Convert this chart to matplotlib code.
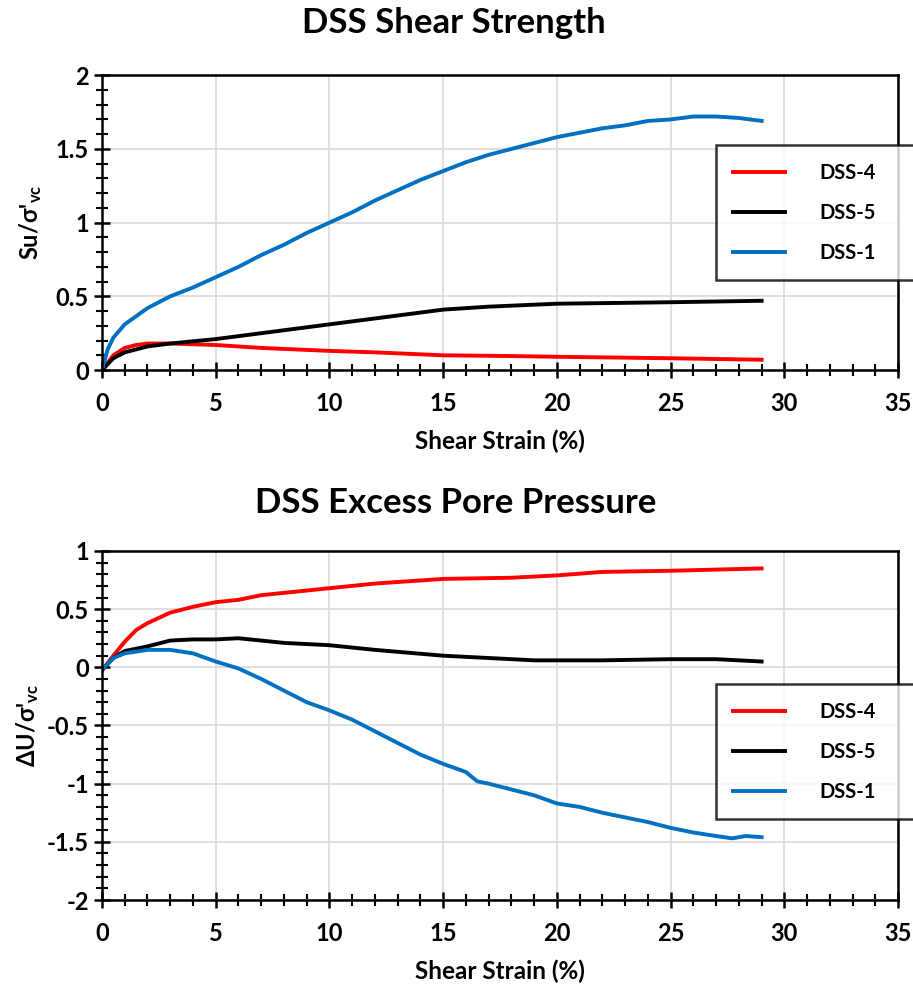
import numpy as np
import matplotlib
matplotlib.use("Agg")
import matplotlib.pyplot as plt
from matplotlib.ticker import MultipleLocator

plt.rcParams['font.family'] = ['Lato', 'DejaVu Sans']
plt.rcParams['font.weight'] = 'bold'
plt.rcParams['mathtext.default'] = 'regular'

labels = ["DSS-4", "DSS-5", "DSS-1"]
colors = ["#ff0000", "#000000", "#0070c0"]

# shear strength
su_x4 = [0, 0.5, 1, 1.5, 2, 3, 4, 5, 7, 10, 12, 15, 18, 20, 25, 29]
su_y4 = [0, 0.10, 0.15, 0.17, 0.18, 0.18, 0.175, 0.17, 0.15, 0.13, 0.12, 0.10, 0.095, 0.09, 0.08, 0.07]
su_x5 = [0, 0.5, 1, 2, 3, 5, 7, 10, 12, 15, 17, 20, 25, 29]
su_y5 = [0, 0.08, 0.12, 0.16, 0.18, 0.21, 0.25, 0.31, 0.35, 0.41, 0.43, 0.45, 0.46, 0.47]
su_x1 = [0, 0.25, 0.5, 1, 2, 3, 4, 5, 6, 7, 8, 9, 10, 11, 12, 13, 14, 15, 16, 17, 18, 19, 20,
         21, 22, 23, 24, 25, 26, 26.5, 27, 28, 29]
su_y1 = [0, 0.14, 0.22, 0.31, 0.42, 0.5, 0.56, 0.63, 0.7, 0.78, 0.85, 0.93, 1.0, 1.07, 1.15, 1.22,
         1.29, 1.35, 1.41, 1.46, 1.5, 1.54, 1.58, 1.61, 1.64, 1.66, 1.69, 1.7, 1.72, 1.72, 1.72, 1.71, 1.69]

# excess pore pressure
du_x4 = [0, 0.5, 1, 1.5, 2, 3, 4, 5, 6, 7, 8, 10, 12, 15, 18, 20, 22, 25, 27, 29]
du_y4 = [-0.03, 0.1, 0.22, 0.32, 0.38, 0.47, 0.52, 0.56, 0.58, 0.62, 0.64, 0.68, 0.72, 0.76, 0.77,
         0.79, 0.82, 0.83, 0.84, 0.85]
du_x5 = [0, 0.5, 1, 2, 3, 4, 5, 6, 7, 8, 10, 12, 15, 17, 19, 22, 25, 27, 29]
du_y5 = [-0.02, 0.08, 0.14, 0.18, 0.23, 0.24, 0.24, 0.25, 0.23, 0.21, 0.19, 0.15, 0.1, 0.08, 0.06,
         0.06, 0.07, 0.07, 0.05]
du_x1 = [0, 0.5, 1, 2, 3, 4, 5, 6, 7, 8, 9, 10, 11, 12, 13, 14, 15, 16, 16.5, 17, 18, 19, 20, 21,
         22, 23, 24, 25, 26, 27, 27.7, 28.3, 29]
du_y1 = [-0.02, 0.08, 0.12, 0.15, 0.15, 0.12, 0.05, -0.01, -0.1, -0.2, -0.3, -0.37, -0.45, -0.55,
         -0.65, -0.75, -0.83, -0.9, -0.98, -1.0, -1.05, -1.1, -1.17, -1.2, -1.25, -1.29, -1.33,
         -1.38, -1.42, -1.45, -1.47, -1.45, -1.46]

fig = plt.figure(figsize=(9.13, 9.86), dpi=100)
ax1 = fig.add_axes([0.1117, 0.6247, 0.872, 0.299])
ax2 = fig.add_axes([0.1117, 0.0872, 0.872, 0.354])


def style(ax, ymin, ymax):
    ax.set_xlim(0, 35)
    ax.set_ylim(ymin, ymax)
    ax.xaxis.set_major_locator(MultipleLocator(5))
    ax.xaxis.set_minor_locator(MultipleLocator(1))
    ax.yaxis.set_major_locator(MultipleLocator(0.5))
    ax.yaxis.set_minor_locator(MultipleLocator(0.1))
    ax.grid(True, which='major', color='#d9d9d9', lw=1.2)
    ax.set_axisbelow(True)
    ax.tick_params(which='major', direction='inout', length=12, width=1.8, labelsize=17)
    ax.tick_params(which='minor', direction='inout', length=8, width=1.5)
    ax.tick_params(axis='x', pad=10)
    for s in ax.spines.values():
        s.set_linewidth(1.8)
    ax.set_xlabel("Shear Strain (%)", fontsize=17.5, fontweight='bold', labelpad=10)


series1 = [(su_x4, su_y4), (su_x5, su_y5), (su_x1, su_y1)]
series2 = [(du_x4, du_y4), (du_x5, du_y5), (du_x1, du_y1)]

for ax, series in [(ax1, series1), (ax2, series2)]:
    for (x, y), c, l in zip(series, colors, labels):
        ax.plot(x, y, color=c, lw=2.8, label=l)

style(ax1, 0, 2)
style(ax2, -2, 1)
ax1.set_yticks([0, 0.5, 1, 1.5, 2])
ax1.set_yticklabels(["0", "0.5", "1", "1.5", "2"])
ax2.set_yticks([-2, -1.5, -1, -0.5, 0, 0.5, 1])
ax2.set_yticklabels(["-2", "-1.5", "-1", "-0.5", "0", "0.5", "1"])

ax1.set_ylabel("Su/σ'$_{vc}$", fontsize=17, fontweight='bold', labelpad=8)
ax2.set_ylabel("ΔU/σ'$_{vc}$", fontsize=17, fontweight='bold', labelpad=4)

fig.text(0.497, 0.977, "DSS Shear Strength", ha='center', va='center', fontsize=25, fontweight='bold')
fig.text(0.499, 0.49, "DSS Excess Pore Pressure", ha='center', va='center', fontsize=25, fontweight='bold')

for ax, y0, y1 in [(ax1, 280 / 986, 143 / 986), (ax2, 819 / 986, 684 / 986)]:
    leg = ax.legend(loc='lower left', bbox_to_anchor=(716 / 913, 1 - y0, 220 / 913, y0 - y1),
                    bbox_transform=fig.transFigure, mode='expand',
                    frameon=True, fancybox=False, edgecolor='black', fontsize=14.5,
                    handlelength=2.6, handletextpad=1.7, labelspacing=1.0, borderpad=0.85,
                    borderaxespad=0)
    leg.get_frame().set_linewidth(1.8)
    for t in leg.get_texts():
        t.set_fontweight('bold')

fig.savefig("out.png", dpi=100)
